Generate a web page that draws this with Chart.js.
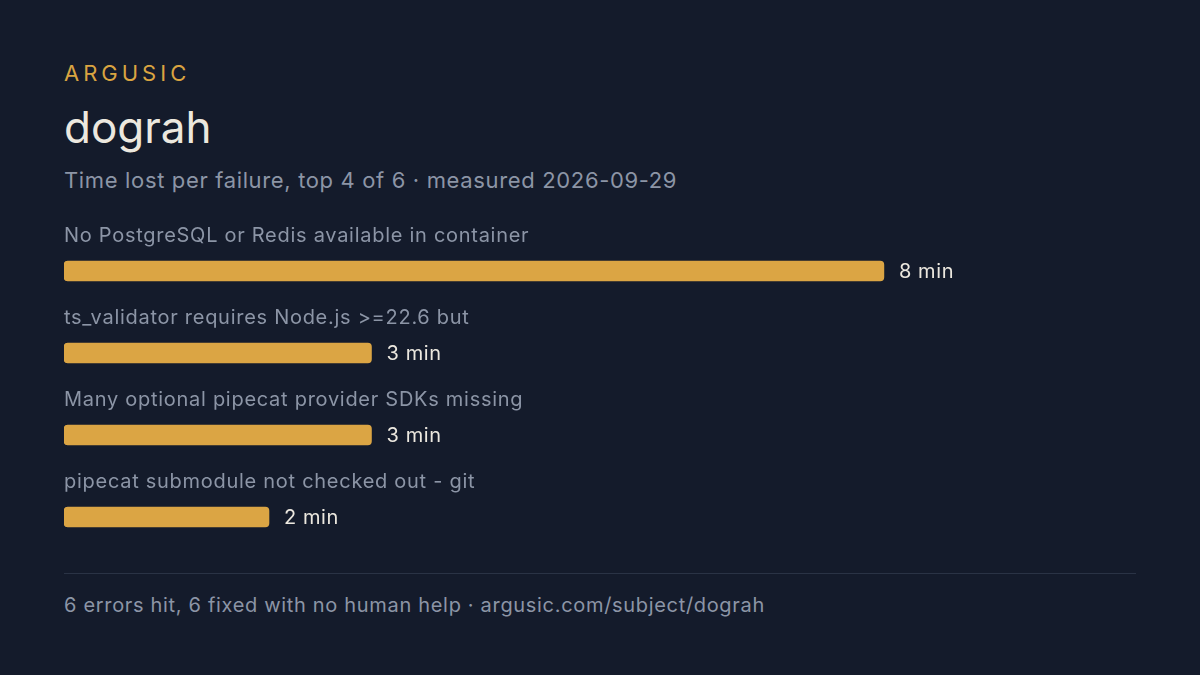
<!DOCTYPE html>
<html>
<head>
<meta charset="utf-8">
<script src="https://cdn.jsdelivr.net/npm/chart.js@4"></script>
<style>
  html, body { margin: 0; padding: 0; }
  body {
    width: 1200px; height: 675px; background: #141b2b; overflow: hidden;
    font-family: Inter, "Noto Sans", sans-serif; position: relative;
  }
  .t { position: absolute; left: 64px; white-space: nowrap; }
  #brand { top: 60px; font-size: 22px; line-height: 26px; letter-spacing: 4px; color: #d9a441; }
  #title { top: 100px; font-size: 44px; line-height: 54px; color: #ece8df; }
  #sub { top: 166px; font-size: 22px; line-height: 28px; letter-spacing: 0.65px; color: #8c95a6; }
  #chartBox { position: absolute; left: 64px; top: 200px; width: 1072px; height: 358px; }
  #rule { position: absolute; left: 64px; top: 573px; width: 1072px; height: 1px; background: #2a3345; }
  #foot { top: 592px; font-size: 20px; line-height: 26px; letter-spacing: 0.68px; color: #8c95a6; }
</style>
</head>
<body>
<div class="t" id="brand">ARGUSIC</div>
<div class="t" id="title">dograh</div>
<div class="t" id="sub">Time lost per failure, top 4 of 6 · measured 2026-09-29</div>
<div id="chartBox"><canvas id="failChart"></canvas></div>
<div id="rule"></div>
<div class="t" id="foot">6 errors hit, 6 fixed with no human help · argusic.com/subject/dograh</div>

<script>
// data
const failures = [
    'No PostgreSQL or Redis available in container',
    'ts_validator requires Node.js >=22.6 but',
    'Many optional pipecat provider SDKs missing',
    'pipecat submodule not checked out - git'
];
const minutesLost = [8, 3, 3, 2];
const valueLabels = ['8 min', '3 min', '3 min', '2 min'];

// draws the failure name above each bar and the minutes to the right
const barText = {
    id: 'barText',
    afterDatasetsDraw(chart) {
        const ctx = chart.ctx;
        const bars = chart.getDatasetMeta(0).data;
        ctx.save();
        ctx.textBaseline = 'middle';
        ctx.textAlign = 'left';
        ctx.font = '20px Inter, "Noto Sans", sans-serif';
        bars.forEach((bar, i) => {
            ctx.letterSpacing = '0.72px';
            ctx.fillStyle = '#8c95a6'; // label color
            ctx.fillText(failures[i], chart.chartArea.left, bar.y - 35);
            ctx.letterSpacing = '0.6px';
            ctx.fillStyle = '#ece8df'; // value color
            ctx.fillText(valueLabels[i], bar.x + 15, bar.y + 1);
        });
        ctx.restore();
    }
};

const ctx = document.getElementById('failChart').getContext('2d');
window.myChart = new Chart(ctx, {
    type: 'bar',
    data: {
        labels: failures,
        datasets: [{
            data: minutesLost,
            backgroundColor: '#dba544',
            borderRadius: 4,
            borderSkipped: false,
            barThickness: 20
        }]
    },
    options: {
        indexAxis: 'y',
        responsive: true,
        maintainAspectRatio: false,
        animation: false,
        layout: {
            padding: { top: 30, left: 0, right: 0, bottom: 0 }
        },
        plugins: {
            legend: { display: false },
            tooltip: { enabled: false }
        },
        scales: {
            x: {
                display: false,
                min: 0,
                max: 10.46 // 8 min lands at x=884
            },
            y: {
                display: false
            }
        }
    },
    plugins: [barText]
});
</script>
</body>
</html>
